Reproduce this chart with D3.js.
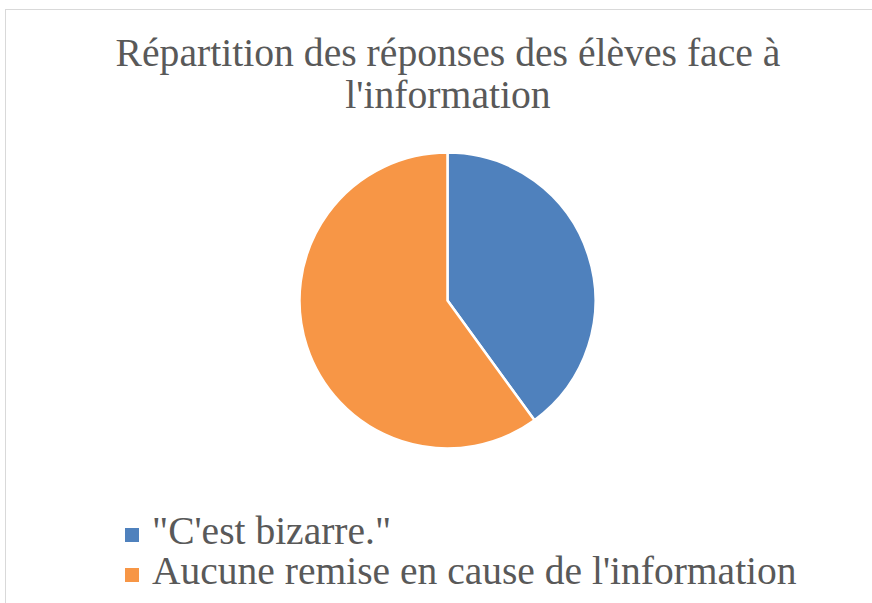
<!DOCTYPE html>
<html><head><meta charset="utf-8">
<script src="https://cdn.jsdelivr.net/npm/d3@7"></script>
<style>html,body{margin:0;padding:0;background:#fff;}svg{display:block;}</style>
</head><body>
<svg id="c" width="872" height="603"></svg>
<script>
const categories = ['"C\'est bizarre."', "Aucune remise en cause de l'information"];
const values = [40, 60];
const colors = ["#4f81bd", "#f79646"];
const titleLines = ["Répartition des réponses des élèves face à", "l'information"];

const svg = d3.select("#c");
const font = "'Liberation Serif', 'DejaVu Serif', serif";
const textColor = "#595959";

svg.append("rect").attr("x", 5.5).attr("y", 9.5).attr("width", 900).attr("height", 700)
  .attr("fill", "#fff").attr("stroke", "#d9d9d9").attr("stroke-width", 1);

function fitText(sel, target) {
  const w = sel.node().getComputedTextLength();
  const fs = parseFloat(sel.attr("font-size"));
  sel.attr("font-size", fs * target / w);
}

const t1 = svg.append("text").attr("x", 448).attr("y", 66).attr("text-anchor", "middle")
  .attr("font-family", font).attr("font-size", 36).attr("fill", textColor).text(titleLines[0]);
fitText(t1, 665);
const t2 = svg.append("text").attr("x", 448).attr("y", 108).attr("text-anchor", "middle")
  .attr("font-family", font).attr("font-size", t1.attr("font-size")).attr("fill", textColor).text(titleLines[1]);

const cx = 447.5, cy = 300.5, r = 148;
const pie = d3.pie().sort(null).value(d => d)(values);
const arc = d3.arc().innerRadius(0).outerRadius(r);
const g = svg.append("g").attr("transform", `translate(${cx},${cy})`);
g.selectAll("path").data(pie).join("path")
  .attr("d", arc).attr("fill", (d, i) => colors[i])
  .attr("stroke", "#fff").attr("stroke-width", 2.5).attr("stroke-linejoin", "round");

const leg = svg.append("g");
const rowY = [544, 584];
const items = leg.selectAll("g").data(categories).join("g");
items.append("rect").attr("x", 125).attr("y", (d, i) => rowY[i] - 16).attr("width", 14).attr("height", 14)
  .attr("fill", (d, i) => colors[i]);
const lt = items.append("text").attr("x", 152).attr("y", (d, i) => rowY[i])
  .attr("font-family", font).attr("font-size", 34).attr("fill", textColor).text(d => d);
const second = d3.select(lt.nodes()[1]);
fitText(second, 645);
lt.attr("font-size", second.attr("font-size"));
</script>
</body></html>
